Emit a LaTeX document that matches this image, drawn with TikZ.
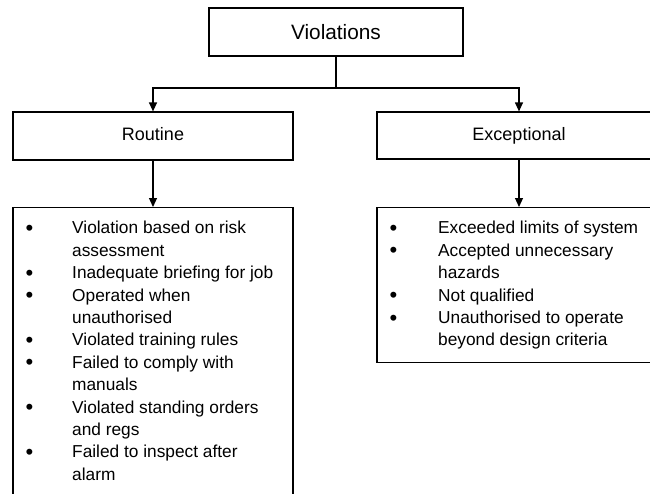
\documentclass[tikz,border=0pt]{standalone}
\usepackage{fontspec}
\setmainfont{Liberation Sans}
\usetikzlibrary{arrows.meta}
\newcommand{\bigbul}{\raisebox{-1.6pt}{\fontsize{22}{22.4}\selectfont\textbullet}}
\begin{document}
\begin{tikzpicture}[x=1pt,y=-1pt,
  box/.style={draw=black,line width=1.2pt,rectangle,inner sep=0pt},
  head/.style={box,font=\fontsize{18}{22}\selectfont,text height=13pt,text depth=3.8pt},
  conn/.style={line width=1.2pt},
  arr/.style={line width=1.2pt,-{Triangle[length=9pt,width=8pt]}},
  listtext/.style={anchor=north west,inner sep=0pt,align=left,font=\fontsize{17.3}{22.4}\selectfont}]
\useasboundingbox (0,0) rectangle (650,493);
\clip (0,0) rectangle (650,493);
\node[box,minimum width=254pt,minimum height=48pt,font=\fontsize{20.8}{24}\selectfont] (viol) at (336,32) {Violations};
\node[head,minimum width=280pt,minimum height=48pt] (rout) at (153,136) {Routine};
\node[head,minimum width=284pt,minimum height=47pt] (exc) at (519,135.5) {Exceptional};
\node[box,anchor=north,minimum width=280pt,minimum height=300pt] (llist) at (153,207) {};
\node[box,anchor=north,minimum width=284pt,minimum height=155pt] (rlist) at (519,207) {};
\coordinate (j) at (336,88);
\draw[conn] (viol.south) -- (j);
\draw[arr] (j) -| (rout.north);
\draw[arr] (j) -| (exc.north);
\draw[arr] (rout.south) -- (llist.north);
\draw[arr] (exc.south) -- (rlist.north);
\node[listtext] (ltext) at (25.5,218) {\begin{tabular}{@{}p{46.5pt}@{}l@{}}
\bigbul & Violation based on risk\\
 & assessment\\
\bigbul & Inadequate briefing for job\\
\bigbul & Operated when\\
 & unauthorised\\
\bigbul & Violated training rules\\
\bigbul & Failed to comply with\\
 & manuals\\
\bigbul & Violated standing orders\\
 & and regs\\
\bigbul & Failed to inspect after\\
 & alarm
\end{tabular}};
\node[listtext] (rtext) at (389.5,218) {\begin{tabular}{@{}p{48.5pt}@{}l@{}}
\bigbul & Exceeded limits of system\\
\bigbul & Accepted unnecessary\\
 & hazards\\
\bigbul & Not qualified\\
\bigbul & Unauthorised to operate\\
 & beyond design criteria
\end{tabular}};
\end{tikzpicture}
\end{document}
